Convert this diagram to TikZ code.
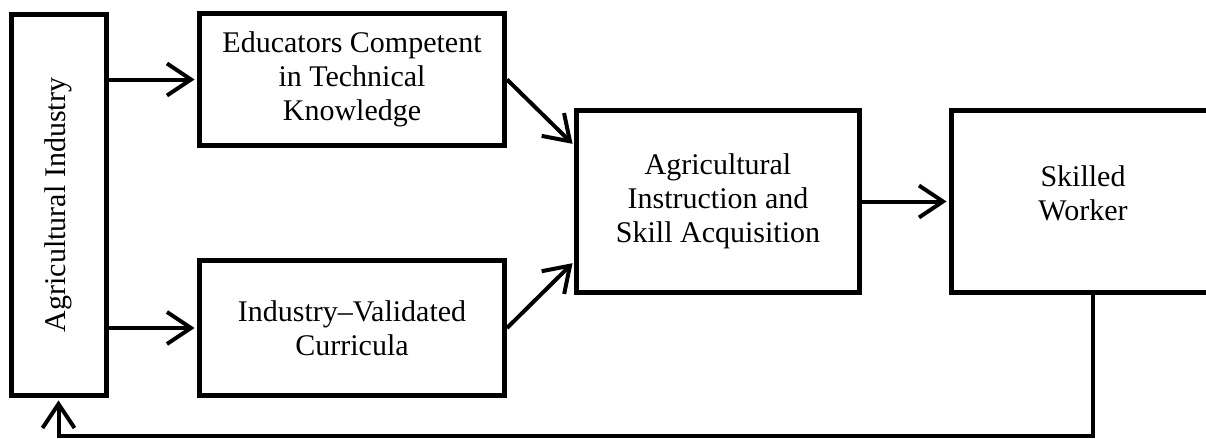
\documentclass[tikz,border=0pt]{standalone}
\usepackage{fontspec}
\setmainfont{Liberation Serif}
\usetikzlibrary{arrows.meta}

\begin{document}
\begin{tikzpicture}[
        x=0.5pt,
        y=-0.5pt,
        box/.style={
            draw,
            rectangle,
            line width=2.5pt,
            align=center,
            inner sep=0pt,
            font=\fontsize{15}{17}\selectfont,
        },
        link/.style={
            line width=2pt,
            shorten >=1.2pt,
        },
    ]
    \useasboundingbox (0, 0) rectangle (1206, 439);

    \node[box, minimum width=47.5pt, minimum height=190.5pt] (ind) at (58.5, 205) {\rotatebox{90}{Agricultural Industry}};
    \node[box, minimum width=152.5pt, minimum height=66pt] (edu) at (352, 79.5) {Educators Competent\\in Technical\\Knowledge};
    \node[box, minimum width=152.5pt, minimum height=67.5pt] (cur) at (352, 328) {Industry--Validated\\Curricula};
    \node[box, minimum width=141.25pt, minimum height=91pt] (acq) at (718, 201.5) {Agricultural\\Instruction and\\Skill Acquisition};
    \node[box, minimum width=131.5pt, minimum height=91pt] (wor) at (1083, 201.5) {};
    \node[box, draw=none] (worlbl) at ([yshift=4pt]wor.center) {Skilled\\Worker};

    \coordinate (fb) at (1093, 436);

    \begin{scope}[link, -{Straight Barb[length=12pt, width=16pt]}]
        \draw (ind.east |- edu.west) -- (edu.west);
        \draw (ind.east |- cur.west) -- (cur.west);
        \draw (edu.east) -- ([yshift=28pt]acq.west);
        \draw (cur.east) -- ([yshift=-30pt]acq.west);
        \draw (acq.east) -- (wor.west);
        \draw (wor.south -| fb) -- (fb) -| (ind.south);
    \end{scope}
\end{tikzpicture}
\end{document}
